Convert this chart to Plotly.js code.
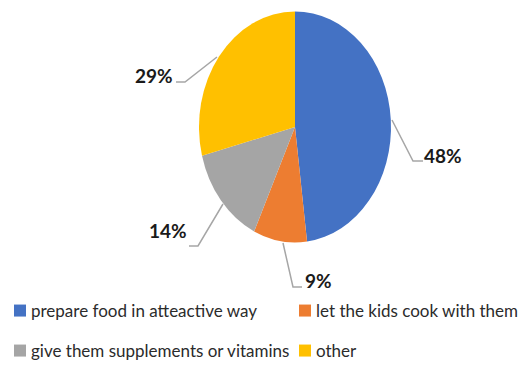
<!DOCTYPE html>
<html><head><meta charset="utf-8">
<script src="https://cdn.plot.ly/plotly-3.0.1.min.js"></script>
<style>html,body{margin:0;padding:0;background:#fff}</style>
</head><body><div id="chart" style="width:523px;height:366px"></div>
<script>
const categories = ['prepare food in atteactive way', 'let the kids cook with them', 'give them supplements or vitamins', 'other'];
const shares = [48, 9, 14, 29];
const sliceColors = ['#4472C4', '#ED7D31', '#A5A5A5', '#FFC000'];

const W = 523, H = 366;
const px = x => x / W, py = y => 1 - y / H;
// pie placement (pixels)
const cx = 295, cy = 127, ry = 115.5, rx = 96;
// percentage label centres and leader lines (pixels)
const labelPos = [[443, 155], [318, 280], [168, 230], [154, 75]];
const leaders = [
  [[392, 120], [413, 161], [423, 161]],
  [[283, 243], [293, 287], [302, 287]],
  [[223, 204], [198, 246], [189, 246]],
  [[217, 57], [185, 82], [176, 82]]
];
// legend grid (pixels)
const legendColGap = 285, legendRowGap = 40, legendTextX = 31;

const annotations = shares.map((v, i) => ({
  text: v + '%', xref: 'paper', yref: 'paper',
  x: px(labelPos[i][0]), y: py(labelPos[i][1]),
  xanchor: 'center', yanchor: 'middle', showarrow: false,
  font: {family: 'Lato', size: 19, color: '#1a1a1a', weight: 'bold'}
}));
const shapes = leaders.map(pts => ({
  type: 'path', xref: 'paper', yref: 'paper',
  path: 'M' + pts.map(p => px(p[0]) + ',' + py(p[1])).join(' L'),
  line: {color: '#a6a6a6', width: 1.5}
}));

const data = [{
  type: 'pie', labels: categories, values: shares, sort: false,
  direction: 'clockwise', rotation: 0, textinfo: 'none', hoverinfo: 'label+percent',
  marker: {colors: sliceColors, line: {width: 0}},
  domain: {x: [px(cx - ry), px(cx + ry)], y: [py(cy + ry), py(cy - ry)]}
}];
const layout = {
  width: W, height: H, margin: {l: 0, r: 0, t: 0, b: 0, autoexpand: false},
  paper_bgcolor: '#fff', showlegend: true,
  legend: {orientation: 'h', x: 0, xanchor: 'left', y: py(293), yanchor: 'top',
    entrywidth: 200, entrywidthmode: 'pixels', traceorder: 'normal', bgcolor: 'rgba(0,0,0,0)',
    font: {family: 'Lato', size: 17, color: '#2b2b2b'}},
  annotations: annotations, shapes: shapes
};
Plotly.newPlot('chart', data, layout, {staticPlot: true}).then(gd => {
  const pl = gd.querySelector('.pielayer');
  if (pl) pl.setAttribute('transform', `translate(${cx},0) scale(${rx / ry},1) translate(${-cx},0)`);
  gd.querySelectorAll('.legend .scrollbox').forEach(s => s.removeAttribute('clip-path'));
  const items = gd.querySelectorAll('.legend .traces');
  let x0 = null, y0 = null;
  items.forEach((t, i) => {
    const m = /translate\(\s*([-\d.e]+)[ ,]+([-\d.e]+)\s*\)/.exec(t.getAttribute('transform') || '');
    const tx = m ? parseFloat(m[1]) : 0, ty = m ? parseFloat(m[2]) : 0;
    if (i === 0) { x0 = tx; y0 = ty; }
    const col = i % 2, row = Math.floor(i / 2);
    t.setAttribute('transform', `translate(${x0 + col * legendColGap},${y0 + row * legendRowGap})`);
    const txt = t.querySelector('.legendtext');
    if (txt) txt.setAttribute('x', legendTextX);
  });
});
</script></body></html>
